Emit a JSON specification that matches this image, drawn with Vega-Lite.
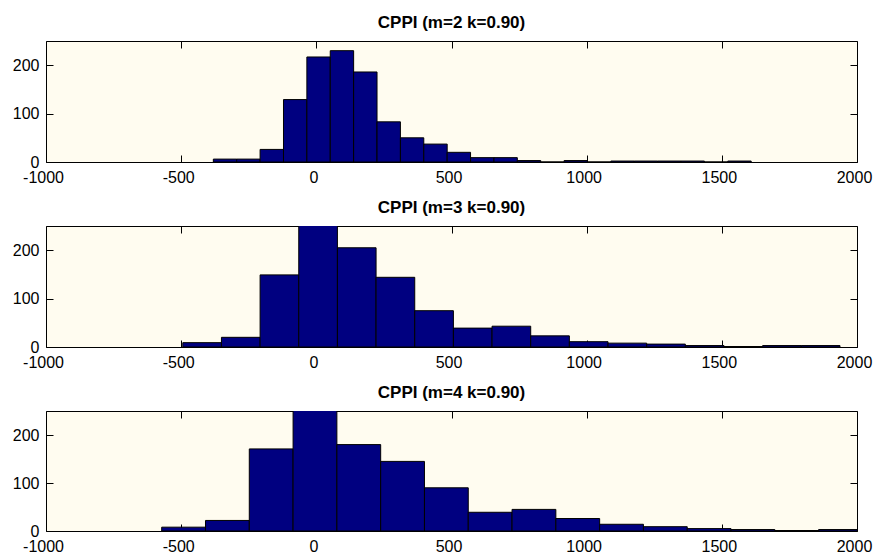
{
  "$schema": "https://vega.github.io/schema/vega-lite/v6.json",
  "background": "white",
  "padding": {"left": 11, "top": 13, "right": 5, "bottom": 5},
  "datasets": {
    "m2": [
      {"start": -381, "end": -294.5, "count": 6},
      {"start": -294.5, "end": -208, "count": 6},
      {"start": -208, "end": -121.5, "count": 26},
      {"start": -121.5, "end": -35, "count": 129},
      {"start": -35, "end": 51.5, "count": 217},
      {"start": 51.5, "end": 138, "count": 230},
      {"start": 138, "end": 224.5, "count": 186},
      {"start": 224.5, "end": 311, "count": 83},
      {"start": 311, "end": 397.5, "count": 50},
      {"start": 397.5, "end": 484, "count": 37},
      {"start": 484, "end": 570.5, "count": 20},
      {"start": 570.5, "end": 657, "count": 9},
      {"start": 657, "end": 743.5, "count": 9},
      {"start": 743.5, "end": 830, "count": 3},
      {"start": 830, "end": 916.5, "count": 0},
      {"start": 916.5, "end": 1003, "count": 3},
      {"start": 1003, "end": 1089.5, "count": 0},
      {"start": 1089.5, "end": 1176, "count": 2},
      {"start": 1176, "end": 1262.5, "count": 2},
      {"start": 1262.5, "end": 1349, "count": 2},
      {"start": 1349, "end": 1435.5, "count": 2},
      {"start": 1435.5, "end": 1522, "count": 0},
      {"start": 1522, "end": 1608.5, "count": 2}
    ],
    "m3": [
      {"start": -494, "end": -351, "count": 9},
      {"start": -351, "end": -208, "count": 20},
      {"start": -208, "end": -65, "count": 149},
      {"start": -65, "end": 78, "count": 258},
      {"start": 78, "end": 221, "count": 205},
      {"start": 221, "end": 364, "count": 144},
      {"start": 364, "end": 507, "count": 75},
      {"start": 507, "end": 650, "count": 39},
      {"start": 650, "end": 793, "count": 43},
      {"start": 793, "end": 936, "count": 23},
      {"start": 936, "end": 1079, "count": 11},
      {"start": 1079, "end": 1222, "count": 8},
      {"start": 1222, "end": 1365, "count": 6},
      {"start": 1365, "end": 1508, "count": 3},
      {"start": 1508, "end": 1651, "count": 1},
      {"start": 1651, "end": 1794, "count": 3},
      {"start": 1794, "end": 1937, "count": 3}
    ],
    "m4": [
      {"start": -572, "end": -410, "count": 8},
      {"start": -410, "end": -248, "count": 22},
      {"start": -248, "end": -86, "count": 171},
      {"start": -86, "end": 76, "count": 255},
      {"start": 76, "end": 238, "count": 180},
      {"start": 238, "end": 400, "count": 145},
      {"start": 400, "end": 562, "count": 90},
      {"start": 562, "end": 724, "count": 39},
      {"start": 724, "end": 886, "count": 45},
      {"start": 886, "end": 1048, "count": 26},
      {"start": 1048, "end": 1210, "count": 14},
      {"start": 1210, "end": 1372, "count": 9},
      {"start": 1372, "end": 1534, "count": 5},
      {"start": 1534, "end": 1696, "count": 3},
      {"start": 1696, "end": 1858, "count": 1},
      {"start": 1858, "end": 2020, "count": 3}
    ]
  },
  "spacing": 64,
  "bounds": "flush",
  "vconcat": [
    {
      "title": {"text": "CPPI (m=2 k=0.90)", "anchor": "middle", "offset": 9},
      "width": 811, "height": 121,
      "data": {"name": "m2"},
      "layer": [
        {"mark": {"type": "bar", "fill": "#000080", "stroke": "black", "strokeWidth": 1, "clip": true},
         "encoding": {
           "x": {"field": "start", "type": "quantitative", "scale": {"domain": [-1000, 2000], "nice": false, "zero": false}, "axis": {"orient": "bottom", "values": [-1000, -500, 0, 500, 1000, 1500, 2000], "labelExpr": "datum.value + ''", "tickSize": -7, "labelPadding": 14, "labelOffset": -3, "labelFlush": false, "labelOverlap": false}},
           "x2": {"field": "end"},
           "y": {"field": "count", "type": "quantitative", "scale": {"domain": [0, 250], "nice": false}, "axis": {"orient": "left", "values": [0, 100, 200], "labelExpr": "datum.value + ''", "tickSize": -7, "labelPadding": 14, "labelFlush": false, "labelOverlap": false}},
           "y2": {"datum": 0}
         }},
        {"mark": {"type": "bar", "opacity": 0, "clip": true},
         "encoding": {
           "x": {"field": "start", "type": "quantitative", "axis": {"orient": "top", "values": [-1000, -500, 0, 500, 1000, 1500, 2000], "tickSize": -7, "labels": false}},
           "x2": {"field": "end"},
           "y": {"field": "count", "type": "quantitative", "axis": {"orient": "right", "values": [0, 100, 200], "tickSize": -7, "labels": false}},
           "y2": {"datum": 0}
         }}
      ],
      "resolve": {"axis": {"x": "independent", "y": "independent"}}
    },
    {
      "title": {"text": "CPPI (m=3 k=0.90)", "anchor": "middle", "offset": 9},
      "width": 811, "height": 121,
      "data": {"name": "m3"},
      "layer": [
        {"mark": {"type": "bar", "fill": "#000080", "stroke": "black", "strokeWidth": 1, "clip": true},
         "encoding": {
           "x": {"field": "start", "type": "quantitative", "scale": {"domain": [-1000, 2000], "nice": false, "zero": false}, "axis": {"orient": "bottom", "values": [-1000, -500, 0, 500, 1000, 1500, 2000], "labelExpr": "datum.value + ''", "tickSize": -7, "labelPadding": 14, "labelOffset": -3, "labelFlush": false, "labelOverlap": false}},
           "x2": {"field": "end"},
           "y": {"field": "count", "type": "quantitative", "scale": {"domain": [0, 250], "nice": false}, "axis": {"orient": "left", "values": [0, 100, 200], "labelExpr": "datum.value + ''", "tickSize": -7, "labelPadding": 14, "labelFlush": false, "labelOverlap": false}},
           "y2": {"datum": 0}
         }},
        {"mark": {"type": "bar", "opacity": 0, "clip": true},
         "encoding": {
           "x": {"field": "start", "type": "quantitative", "axis": {"orient": "top", "values": [-1000, -500, 0, 500, 1000, 1500, 2000], "tickSize": -7, "labels": false}},
           "x2": {"field": "end"},
           "y": {"field": "count", "type": "quantitative", "axis": {"orient": "right", "values": [0, 100, 200], "tickSize": -7, "labels": false}},
           "y2": {"datum": 0}
         }}
      ],
      "resolve": {"axis": {"x": "independent", "y": "independent"}}
    },
    {
      "title": {"text": "CPPI (m=4 k=0.90)", "anchor": "middle", "offset": 9},
      "width": 811, "height": 120,
      "data": {"name": "m4"},
      "layer": [
        {"mark": {"type": "bar", "fill": "#000080", "stroke": "black", "strokeWidth": 1, "clip": true},
         "encoding": {
           "x": {"field": "start", "type": "quantitative", "scale": {"domain": [-1000, 2000], "nice": false, "zero": false}, "axis": {"orient": "bottom", "values": [-1000, -500, 0, 500, 1000, 1500, 2000], "labelExpr": "datum.value + ''", "tickSize": -7, "labelPadding": 14, "labelOffset": -3, "labelFlush": false, "labelOverlap": false}},
           "x2": {"field": "end"},
           "y": {"field": "count", "type": "quantitative", "scale": {"domain": [0, 250], "nice": false}, "axis": {"orient": "left", "values": [0, 100, 200], "labelExpr": "datum.value + ''", "tickSize": -7, "labelPadding": 14, "labelFlush": false, "labelOverlap": false}},
           "y2": {"datum": 0}
         }},
        {"mark": {"type": "bar", "opacity": 0, "clip": true},
         "encoding": {
           "x": {"field": "start", "type": "quantitative", "axis": {"orient": "top", "values": [-1000, -500, 0, 500, 1000, 1500, 2000], "tickSize": -7, "labels": false}},
           "x2": {"field": "end"},
           "y": {"field": "count", "type": "quantitative", "axis": {"orient": "right", "values": [0, 100, 200], "tickSize": -7, "labels": false}},
           "y2": {"datum": 0}
         }}
      ],
      "resolve": {"axis": {"x": "independent", "y": "independent"}}
    }
  ],
  "config": {
    "view": {"fill": "#FFFCF0", "stroke": "black", "strokeWidth": 1},
    "axis": {"labelFont": "Liberation Sans", "labelFontSize": 16, "labelColor": "black", "tickColor": "black", "tickWidth": 1, "grid": false, "domain": false, "title": null},
    "title": {"font": "Liberation Sans", "fontSize": 17, "fontWeight": "bold", "color": "black"}
  }
}
